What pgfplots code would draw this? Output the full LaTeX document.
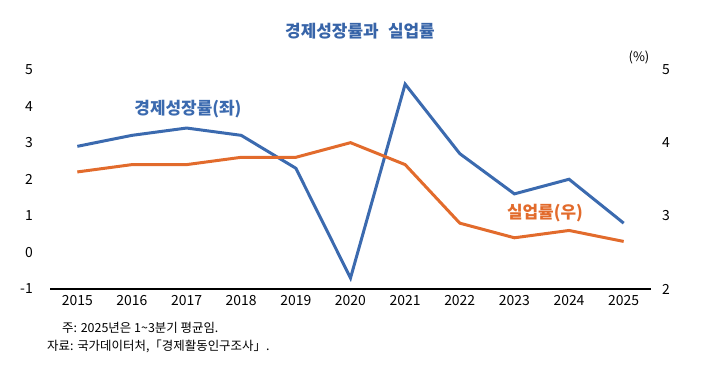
\documentclass[border=0pt]{standalone}
\usepackage{pgfplots}
\pgfplotsset{compat=1.18}
\usepackage{fontspec}
\setmainfont{Noto Sans CJK KR}
\definecolor{gblue}{RGB}{59,106,175}
\definecolor{gorange}{RGB}{226,107,44}
\definecolor{tblue}{RGB}{55,100,168}
\begin{document}
\begin{tikzpicture}[x=1bp,y=1bp]
\useasboundingbox (0,0) rectangle (702,374);
\begin{axis}[at={(50bp,85bp)}, anchor=south west, scale only axis,
  width=601bp, height=219.5bp,
  xmin=2014.5, xmax=2025.5, ymin=-1, ymax=5,
  axis x line*=bottom, axis y line*=left,
  x axis line style={-, black, line width=1.5bp},
  y axis line style={draw=none},
  xtick={2015,...,2025}, ytick={-1,0,...,5},
  major tick length=0pt,
  /pgf/number format/assume math mode=true,
  /pgf/number format/set thousands separator={},
  tick label style={font=\fontsize{14}{16}\selectfont, inner sep=0pt},
  xticklabel style={anchor=north, yshift=-6bp},
  yticklabel style={anchor=east, xshift=-17bp},
  clip=false]
\addplot[gblue, line width=3bp] coordinates {
(2015,2.9) (2016,3.2) (2017,3.4) (2018,3.2) (2019,2.3) (2020,-0.7)
(2021,4.6) (2022,2.7) (2023,1.6) (2024,2.0) (2025,0.8)};
\end{axis}
\begin{axis}[at={(50bp,85bp)}, anchor=south west, scale only axis,
  width=601bp, height=219.5bp,
  xmin=2014.5, xmax=2025.5, ymin=2, ymax=5,
  axis y line*=right, axis x line=none,
  y axis line style={draw=none},
  ytick={2,3,4,5},
  major tick length=0pt,
  /pgf/number format/assume math mode=true,
  tick label style={font=\fontsize{14}{16}\selectfont, inner sep=0pt},
  yticklabel style={anchor=west, xshift=11bp},
  clip=false]
\addplot[gorange, line width=3bp] coordinates {
(2015,3.6) (2016,3.7) (2017,3.7) (2018,3.8) (2019,3.8) (2020,4.0)
(2021,3.7) (2022,2.9) (2023,2.7) (2024,2.8) (2025,2.65)};
\end{axis}
\node[text=tblue, font=\fontsize{17}{20}\selectfont\bfseries] at (360,343) {경제성장률과\hspace{0.55em}실업률};
\node[text=gblue, font=\fontsize{17}{20}\selectfont\bfseries] at (188,265) {경제성장률(좌)};
\node[text=gorange, font=\fontsize{17}{20}\selectfont\bfseries] at (545,161) {실업률(우)};
\node[font=\fontsize{13}{15}\selectfont] at (639,317) {(\%)};
\node[anchor=west, inner sep=0pt, font=\fontsize{12.5}{14}\selectfont] at (62,46) {주: 2025년은 1\textasciitilde3분기 평균임.};
\node[anchor=west, inner sep=0pt, font=\fontsize{12.5}{14}\selectfont] at (47,28) {자료: 국가데이터처,「경제활동인구조사」.};
\end{tikzpicture}
\end{document}
